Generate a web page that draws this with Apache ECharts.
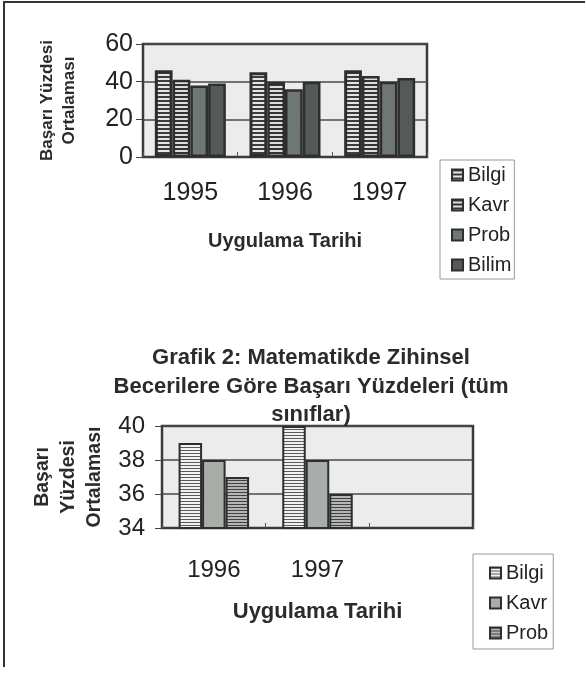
<!DOCTYPE html>
<html>
<head>
<meta charset="utf-8">
<script src="https://cdn.jsdelivr.net/npm/echarts@6/dist/echarts.min.js"></script>
<style>
  body { margin: 0; background: #fff; }
  #frame { position: absolute; left: 3px; top: 1px; width: 580px; height: 664px;
           border-left: 2px solid #333; border-top: 2px solid #333; }
  #chart1 { position: absolute; left: 0; top: 0; width: 586px; height: 300px; }
  #chart2 { position: absolute; left: 0; top: 300px; width: 586px; height: 375px; }
</style>
</head>
<body>
<div id="frame"></div>
<div id="chart1"></div>
<div id="chart2"></div>
<script>
// grafik 1
var years1 = ['1995', '1996', '1997'];
var bilgi1 = [46, 45, 46];
var kavr1  = [41, 40, 43];
var prob1  = [38, 36, 40];
var bilim1 = [39, 40, 42];
var yTicks1 = [0, 20, 40, 60];

// grafik 2
var years2 = ['1996', '1997', ''];
var bilgi2 = [39, 40];
var kavr2  = [38, 38];
var prob2  = [37, 36];
var yTicks2 = [34, 36, 38, 40];

var font = 'Liberation Sans, Arial, sans-serif';

// striped fills, like the old excel patterns
function stripes(bg, line, size, lineW) {
  var c = document.createElement('canvas');
  c.width = size; c.height = size;
  var g = c.getContext('2d');
  g.fillStyle = bg; g.fillRect(0, 0, size, size);
  g.fillStyle = line; g.fillRect(0, 0, size, lineW);
  return { image: c, repeat: 'repeat' };
}

function bar(name, data, color, bw) {
  return {
    name: name, type: 'bar', data: data,
    barGap: '0%',
    itemStyle: { color: color, borderColor: '#2e2e2e', borderWidth: bw }
  };
}

function axes(cats, ticks, o) {
  return {
    grid: { left: o.left, top: o.top, width: o.width, height: o.height, show: true,
            backgroundColor: '#ececec', borderColor: '#3a3a3a', borderWidth: 2.5 },
    xAxis: {
      type: 'category', data: cats,
      name: 'Uygulama Tarihi', nameLocation: 'middle', nameGap: o.xNameGap,
      nameTextStyle: { fontFamily: font, fontWeight: 'bold', fontSize: o.xNameSize, color: '#2b2b2b' },
      axisLine: { lineStyle: { color: '#3a3a3a', width: 2 } },
      axisTick: { show: true, inside: true, length: 5, lineStyle: { color: '#555' } },
      axisLabel: { margin: o.labelMargin, fontFamily: font, fontSize: o.labelSize, color: '#222' }
    },
    yAxis: {
      type: 'value', min: ticks[0], max: ticks[ticks.length - 1], interval: ticks[1] - ticks[0],
      name: o.yName, nameLocation: 'middle', nameRotate: 90, nameGap: o.yNameGap,
      nameTextStyle: { fontFamily: font, fontWeight: 'bold', fontSize: o.yNameSize,
                       lineHeight: o.yNameLine, color: '#2b2b2b', align: 'center' },
      axisLine: { show: true, lineStyle: { color: '#3a3a3a', width: 2 } },
      axisTick: { show: true, length: 7, lineStyle: { color: '#444' } },
      axisLabel: { margin: o.yLabelMargin, fontFamily: font, fontSize: o.labelSize, color: '#222' },
      splitLine: { lineStyle: { color: '#4a4a4a', width: 1.5 } }
    }
  };
}

var chart1 = echarts.init(document.getElementById('chart1'));
var a1 = axes(years1, yTicks1, {
  left: 143, top: 44, width: 284, height: 113,
  xNameGap: 74, xNameSize: 20, labelMargin: 24, labelSize: 25,
  yName: 'Başarı Yüzdesi\nOrtalaması', yNameGap: 63, yNameSize: 17, yNameLine: 22, yLabelMargin: 10
});
chart1.setOption({
  animation: false,
  grid: a1.grid, xAxis: a1.xAxis, yAxis: a1.yAxis,
  legend: {
    orient: 'vertical', left: 440, top: 160,
    padding: [5, 3, 4, 11], itemGap: 10, itemWidth: 11, itemHeight: 11,
    borderColor: '#999', borderWidth: 1,
    icon: 'rect',
    textStyle: { fontFamily: font, fontSize: 20, lineHeight: 20, color: '#222' },
    data: ['Bilgi', 'Kavr', 'Prob', 'Bilim']
  },
  series: [
    Object.assign(bar('Bilgi', bilgi1, stripes('#e4e4e4', '#3c3c3c', 4, 2), 3), { barCategoryGap: '25%' }),
    bar('Kavr', kavr1, stripes('#dcdcdc', '#333333', 4, 2), 2.5),
    bar('Prob', prob1, '#6f7772', 2.5),
    bar('Bilim', bilim1, '#545b57', 2.5)
  ]
});

var chart2 = echarts.init(document.getElementById('chart2'));
var a2 = axes(years2, yTicks2, {
  left: 162, top: 126, width: 311, height: 102,
  xNameGap: 73, xNameSize: 22, labelMargin: 30, labelSize: 24,
  yName: 'Başarı\nYüzdesi\nOrtalaması', yNameGap: 48, yNameSize: 19.5, yNameLine: 26, yLabelMargin: 17
});
chart2.setOption({
  animation: false,
  title: {
    text: 'Grafik 2: Matematikde Zihinsel\nBecerilere Göre Başarı Yüzdeleri (tüm\nsınıflar)',
    left: 311, top: 44, textAlign: 'center', padding: 0,
    textStyle: { fontFamily: font, fontWeight: 'bold', fontSize: 22, lineHeight: 28.5, color: '#2b2b2b' }
  },
  grid: a2.grid, xAxis: a2.xAxis, yAxis: a2.yAxis,
  legend: {
    orient: 'vertical', left: 473, top: 254,
    padding: [9, 5, 6, 16], itemGap: 10, itemWidth: 11, itemHeight: 11,
    borderColor: '#999', borderWidth: 1,
    icon: 'rect',
    textStyle: { fontFamily: font, fontSize: 20, lineHeight: 20, color: '#222' },
    data: ['Bilgi', 'Kavr', 'Prob']
  },
  series: [
    Object.assign(bar('Bilgi', bilgi2, stripes('#f2f2f2', '#5a5a5a', 3, 1), 2), { barCategoryGap: '32%' }),
    bar('Kavr', kavr2, '#a8ada9', 2),
    bar('Prob', prob2, stripes('#b5b5b5', '#404040', 3, 1), 2)
  ]
});
</script>
</body>
</html>
